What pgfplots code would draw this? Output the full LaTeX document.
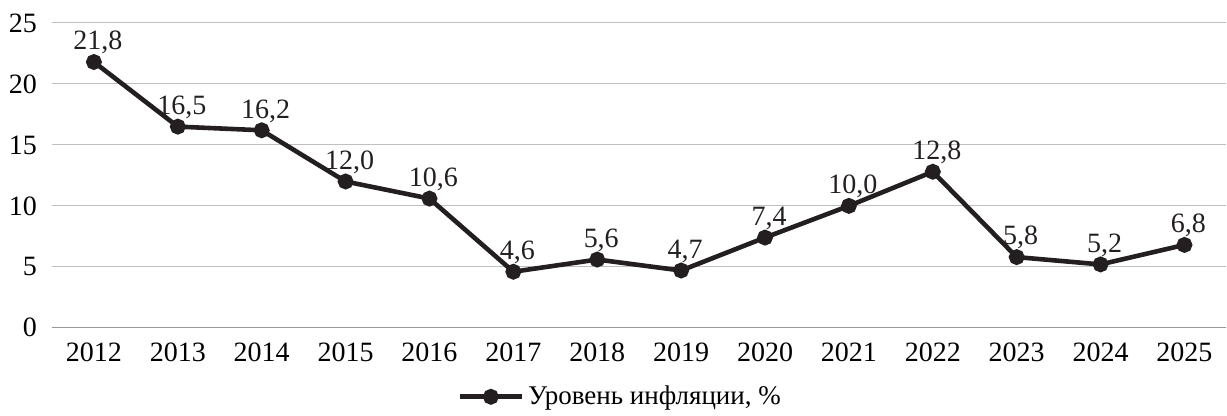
\documentclass[border=0pt]{standalone}
\usepackage{pgfplots}
\pgfplotsset{compat=1.18}
\usepackage{fontspec}
\setmainfont{Liberation Serif}
\definecolor{linec}{HTML}{231F20}
\definecolor{gridc}{HTML}{BFBFBF}
\begin{document}
\begin{tikzpicture}
\begin{axis}[
    scale only axis,
    width=587.5pt, height=152.5pt,
    xmin=-0.5, xmax=13.5,
    ymin=0, ymax=25,
    ytick={0,5,...,25},
    xtick={0,...,13},
    xticklabels={2012,2013,2014,2015,2016,2017,2018,2019,2020,2021,2022,2023,2024,2025},
    axis x line*=bottom,
    axis y line*=left,
    x axis line style={draw=gray!80, line width=0.6pt},
    y axis line style={draw=none},
    ymajorgrids,
    grid style={draw=gridc, line width=0.5pt},
    major tick length=0pt,
    tick label style={font=\fontsize{14}{16}\selectfont},
    /pgf/number format/assume math mode=true,
    xticklabel style={yshift=-4pt},
    yticklabel style={xshift=-4pt},
    legend style={draw=none, at={(0.5,0)}, anchor=center, yshift=-34.5pt, xshift=-9pt,
        font=\fontsize{13.5}{16}\selectfont},
    legend image code/.code={
        \draw[#1, line width=2.3pt] (0cm,0cm) -- (31pt,0cm);
        \fill[linec] (15.5pt,0cm) circle (2.8pt);
    },
    clip=false,
]
\addplot[color=linec, line width=2.3pt, mark=*, mark size=2.8pt,
    mark options={fill=linec, draw=linec},
    nodes near coords,
    every node near coord/.append style={font=\fontsize{14}{16}\selectfont, anchor=south, yshift=-0.5pt, xshift=2pt,
        /pgf/number format/.cd, fixed, fixed zerofill, precision=1, use comma, assume math mode=true},
] coordinates {
    (0,21.8) (1,16.5) (2,16.2) (3,12.0) (4,10.6) (5,4.6) (6,5.6)
    (7,4.7) (8,7.4) (9,10.0) (10,12.8) (11,5.8) (12,5.2) (13,6.8)
};
\addlegendentry{Уровень инфляции, \%}
\end{axis}
\path ([xshift=-26pt,yshift=-40.5pt]current axis.south west) rectangle ([yshift=11.5pt]current axis.north east);
\end{tikzpicture}
\end{document}
